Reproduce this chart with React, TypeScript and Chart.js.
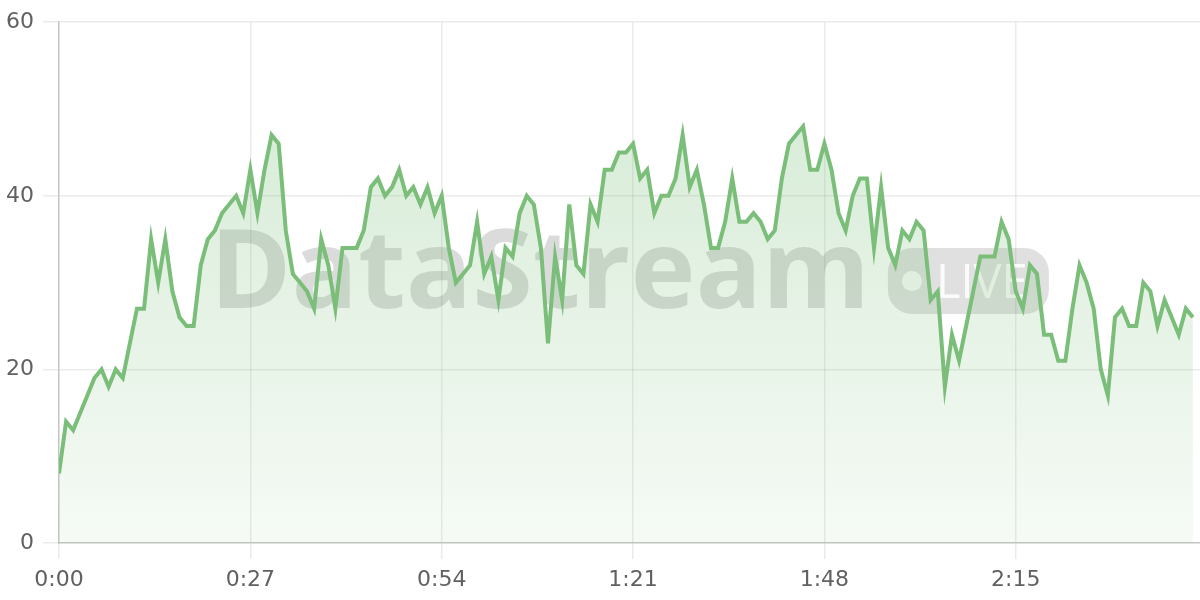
import { useEffect, useRef } from "react";
import { Chart, registerables } from "chart.js";

Chart.register(...registerables);

// One reading per second, starting at 0:00
const values: number[] = [
  8, 14, 13, 15, 17, 19, 20, 18, 20, 19,
  23, 27, 27, 35, 30, 35, 29, 26, 25, 25,
  32, 35, 36, 38, 39, 40, 38, 43, 38, 43,
  47, 46, 36, 31, 30, 29, 27, 35, 32, 27,
  34, 34, 34, 36, 41, 42, 40, 41, 43, 40,
  41, 39, 41, 38, 40, 34, 30, 31, 32, 37,
  31, 33, 28, 34, 33, 38, 40, 39, 34, 23,
  33, 28, 39, 32, 31, 39, 37, 43, 43, 45,
  45, 46, 42, 43, 38, 40, 40, 42, 47, 41,
  43, 39, 34, 34, 37, 42, 37, 37, 38, 37,
  35, 36, 42, 46, 47, 48, 43, 43, 46, 43,
  38, 36, 40, 42, 42, 34, 41, 34, 32, 36,
  35, 37, 36, 28, 29, 18, 24, 21, 25, 29,
  33, 33, 33, 37, 35, 29, 27, 32, 31, 24,
  24, 21, 21, 27, 32, 30, 27, 20, 17, 26,
  27, 25, 25, 30, 29, 25, 28, 26, 24, 27,
  26,
];

const xTickStepSeconds = 27;
const xMaxSeconds = 161;
const yTickValues = [0, 20, 40, 60];
const watermarkTitle = "DataStream";
const watermarkBadge = "LIVE";

const lineColor = "rgb(122, 190, 122)";

function formatSeconds(v: number): string {
  const m = Math.floor(v / 60);
  const s = Math.round(v % 60);
  return `${m}:${String(s).padStart(2, "0")}`;
}

const watermarkPlugin = {
  id: "watermark",
  beforeDatasetsDraw(chart: any) {
    const { ctx, chartArea } = chart;
    const cx = (chartArea.left + chartArea.right) / 2;
    const cy = (chartArea.top + chartArea.bottom) / 2;
    ctx.save();
    ctx.font = "bold 110px 'Open Sans', 'DejaVu Sans', sans-serif";
    ctx.textBaseline = "alphabetic";
    ctx.textAlign = "left";
    const textW = ctx.measureText(watermarkTitle).width;
    const gap = 18;
    const badgeW = 161;
    const badgeH = 66;
    const total = textW + gap + badgeW;
    const startX = cx - total / 2;
    ctx.fillStyle = "rgba(0,0,0,0.14)";
    ctx.fillText(watermarkTitle, startX, cy + 25.5);

    const bx = startX + textW + gap;
    const by = cy - 34.5;
    ctx.beginPath();
    ctx.roundRect(bx, by, badgeW, badgeH, 24);
    ctx.fillStyle = "rgba(0,0,0,0.12)";
    ctx.fill();

    ctx.fillStyle = "rgba(255,255,255,0.85)";
    ctx.beginPath();
    ctx.arc(bx + 24, by + 33, 10, 0, Math.PI * 2);
    ctx.fill();

    ctx.font = "47px 'Open Sans', 'DejaVu Sans', sans-serif";
    ctx.fillText(watermarkBadge, bx + 48, cy + 15.5);
    ctx.restore();
  },
};

export default function App() {
  const canvasRef = useRef<HTMLCanvasElement | null>(null);

  useEffect(() => {
    const canvas = canvasRef.current;
    if (!canvas) return;
    const data = values.map((v, i) => ({ x: i, y: v }));

    const chart = new Chart(canvas, {
      type: "line",
      data: {
        datasets: [
          {
            data,
            borderColor: lineColor,
            borderWidth: 4,
            pointRadius: 0,
            pointHoverRadius: 0,
            tension: 0,
            fill: "origin",
            backgroundColor: (context: any) => {
              const { chart: c } = context;
              const area = c.chartArea;
              if (!area) return "rgba(122,190,122,0.15)";
              const g = c.ctx.createLinearGradient(0, area.top, 0, area.bottom);
              g.addColorStop(0, "rgba(122,190,122,0.34)");
              g.addColorStop(1, "rgba(122,190,122,0.07)");
              return g;
            },
          },
        ],
      },
      options: {
        animation: false,
        responsive: true,
        maintainAspectRatio: false,
        layout: { padding: { top: 7, left: 0, right: 0, bottom: 0 } },
        plugins: {
          legend: { display: false },
          tooltip: { enabled: false },
        },
        scales: {
          x: {
            type: "linear",
            min: 0,
            max: xMaxSeconds,
            afterFit: (axis: any) => {
              axis.height = 57;
            },
            grid: {
              color: "rgba(0,0,0,0.08)",
              tickLength: 16,
              lineWidth: 1.5,
            },
            border: { color: "rgba(0,0,0,0.17)", width: 1.5 },
            ticks: {
              stepSize: xTickStepSeconds,
              includeBounds: false,
              padding: 8,
              color: "#616161",
              font: { family: "'DejaVu Sans', sans-serif", size: 22 },
              maxRotation: 0,
              callback: (v: any) => formatSeconds(Number(v)),
            },
          },
          y: {
            min: yTickValues[0],
            max: yTickValues[yTickValues.length - 1],
            afterFit: (axis: any) => {
              axis.width = 59;
            },
            grid: {
              color: "rgba(0,0,0,0.08)",
              tickLength: 16,
              lineWidth: 1.5,
            },
            border: { color: "rgba(0,0,0,0.17)", width: 1.5 },
            afterBuildTicks: (axis: any) => {
              axis.ticks = yTickValues.map((v) => ({ value: v }));
            },
            ticks: {
              padding: 9,
              color: "#616161",
              font: { family: "'DejaVu Sans', sans-serif", size: 22 },
            },
          },
        },
      },
      plugins: [watermarkPlugin],
    });

    return () => chart.destroy();
  }, []);

  return (
    <div style={{ position: "fixed", left: 0, top: 0, width: 1200, height: 600, background: "#fff" }}>
      <canvas ref={canvasRef} />
    </div>
  );
}
